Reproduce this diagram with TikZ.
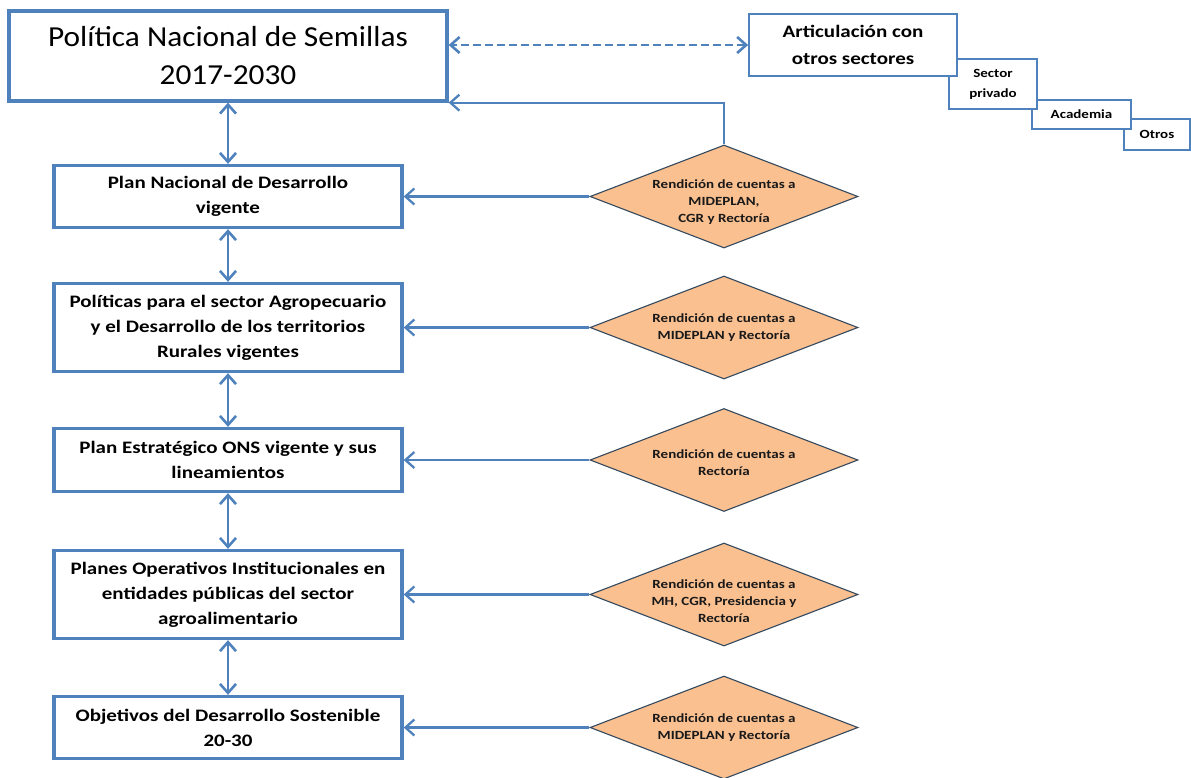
\documentclass[tikz,border=0pt]{standalone}
\usepackage{fontspec}
\setmainfont{Carlito}
\newfontfamily\widebold[FakeStretch=1.2]{Carlito-Bold}
\newfontfamily\widereg[FakeStretch=1.08]{Carlito}
\usepackage{xcolor}
\usetikzlibrary{arrows.meta,shapes.geometric,positioning}
\definecolor{boxblue}{HTML}{4F81BD}
\definecolor{diafill}{HTML}{FAC090}
\definecolor{diadraw}{HTML}{34495E}
\tikzset{
  box/.style={draw=boxblue,line width=3.3pt,fill=white,minimum width=348pt,minimum height=62pt,
    align=center,font=\widebold\fontsize{17.5}{25}\selectfont,inner sep=0pt},
  dia/.style={diamond,draw=diadraw,line width=1.1pt,fill=diafill,minimum width=268pt,minimum height=103pt,
    inner sep=0pt,aspect=2.6},
  diatext/.style={align=center,font=\widebold\fontsize{12.5}{17}\selectfont,text=black!90},
  sbox/.style={draw=boxblue,line width=1.8pt,fill=white,align=center,inner sep=0pt,
    font=\widebold\fontsize{12.5}{20}\selectfont},
  link/.style={draw=boxblue,line width=2.6pt}
}
\begin{document}
\begin{tikzpicture}[x=1pt,y=-1pt,>={Straight Barb[length=9pt,width=16pt]},node distance=133pt]
  \useasboundingbox (0,0) rectangle (1191,777);
  \node[box,minimum width=438pt,minimum height=90pt,font=\widereg\fontsize{29}{38}\selectfont] (pol) at (228,56)
    {Política Nacional de Semillas\\2017-2030};
  \node[box] (pnd) [below of=pol,node distance=140.5pt] {Plan Nacional de Desarrollo\\vigente};
  \node[box,minimum height=88pt] (pag) [below of=pnd,node distance=131pt]
    {Políticas para el sector Agropecuario\\y el Desarrollo de los territorios\\Rurales vigentes};
  \node[box,minimum height=63pt] (pes) [below of=pag,node distance=132.5pt]
    {Plan Estratégico ONS vigente y sus\\lineamientos};
  \node[box,minimum height=88pt] (poi) [below of=pes,node distance=134.5pt]
    {Planes Operativos Institucionales en\\entidades públicas del sector\\agroalimentario};
  \node[box] (ods) [below of=poi] {Objetivos del Desarrollo Sostenible\\20-30};

  \node[dia] (r1) [right of=pnd,node distance=496pt] {};
  \node[dia] (r2) [right of=pag,node distance=496pt] {};
  \node[dia] (r3) [right of=pes,node distance=496pt] {};
  \node[dia] (r4) [right of=poi,node distance=496pt] {};
  \node[dia] (r5) [right of=ods,node distance=496pt] {};
  \node[diatext,yshift=-6pt] at (r1) {Rendición de cuentas a\\MIDEPLAN,\\CGR y Rectoría};
  \node[diatext] at (r2) {Rendición de cuentas a\\MIDEPLAN y Rectoría};
  \node[diatext,yshift=-3pt] at (r3) {Rendición de cuentas a\\Rectoría};
  \node[diatext,yshift=-7pt] at (r4) {Rendición de cuentas a\\MH, CGR, Presidencia y\\Rectoría};
  \node[diatext] at (r5) {Rendición de cuentas a\\MIDEPLAN y Rectoría};

  \node[sbox,minimum width=66pt,minimum height=31pt] (otr) at (1157,134.5) {Otros};
  \node[sbox,minimum width=99pt,minimum height=29pt] (aca) at (1081.5,114.5) {Academia};
  \node[sbox,minimum width=88pt,minimum height=50pt] (spr) at (993,84) {Sector\\privado};
  \node[sbox,minimum width=208pt,minimum height=62pt,font=\widebold\fontsize{17.5}{27}\selectfont] (art) at (853,45)
    {Articulación con\\otros sectores};

  \path[link,<->] (pol) edge (pnd)
        (pnd) edge (pag)
        (pag) edge (pes)
        (pes) edge (poi)
        (poi) edge (ods);
  \path[link,->,line width=2.3pt] (r1) edge (pnd)
        (r2) edge (pag)
        (r3) edge (pes)
        (r4) edge (poi)
        (r5) edge (ods);
  \draw[link,->,line width=2.3pt] (r1.north) |- (pol.south east);
  \draw[link,<->,dash pattern=on 8pt off 4pt] (art.west) -- (art.west -| pol.east);
\end{tikzpicture}
\end{document}
